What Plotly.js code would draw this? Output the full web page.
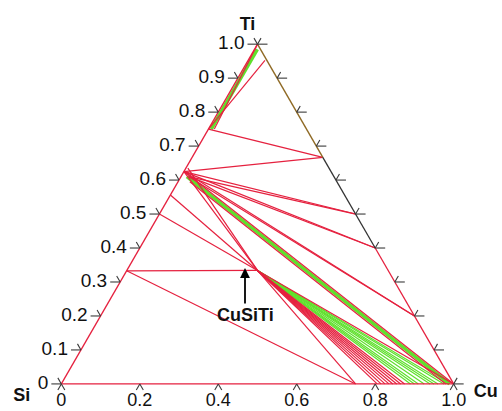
<!DOCTYPE html>
<html><head><meta charset="utf-8">
<script src="https://cdn.plot.ly/plotly-3.0.1.min.js"></script>
<style>html,body{margin:0;padding:0;background:#fff}#chart{width:502px;height:411px}</style>
</head><body><div id="chart"></div>
<script>
// ---- Data: compositions as [Si, Ti, Cu] mole fractions ----
const TiSi2  = [0.667, 0.333, 0];
const TiSi   = [0.5, 0.5, 0];
const Ti5Si4 = [0.444, 0.556, 0];
const Ti5Si3 = [0.375, 0.625, 0];
const Ti5Si3b = [0.37, 0.61, 0.02];
const Ti5Si3c = [0.36, 0.635, 0.005];
const Ti5Si3d = [0.375, 0.595, 0.03];
const Ti5Si3m = [0.375, 0.61, 0.015];
const Ti3Si  = [0.25, 0.75, 0];
const betaTi = [0.005, 0.952, 0.043];
const SiCorner = [1, 0, 0];
const TiCorner = [0, 1, 0];
const CuSiTi = [0.333, 0.334, 0.333];
const Ti2Cu  = [0, 0.667, 0.333];
const TiCu   = [0, 0.5, 0.5];
const Ti2Cu3 = [0, 0.4, 0.6];
const TiCu4  = [0, 0.2, 0.8];
const Cu3Si  = [0.25, 0, 0.75];
const Cu     = [0, 0, 1];
const CuSs   = [0.02, 0, 0.98];
const CuSsMid = [0.01, 0, 0.99];
const bandTop = [0.008, 0.985, 0.007];
const bandBottom = [0.243, 0.75, 0.007];
const bandRedTop = [0, 1, 0];
const bandRedBottom = [0.235, 0.75, 0.015];

const redTies = [
  [Ti3Si, betaTi], [Ti3Si, Ti2Cu], [Ti5Si3, Ti2Cu],
  [Ti5Si3, TiCu], [Ti5Si3b, TiCu],
  [Ti5Si3, Ti2Cu3], [Ti5Si3b, Ti2Cu3],
  [Ti5Si3, TiCu4], [Ti5Si3b, TiCu4],
  [Ti5Si3, CuSiTi], [Ti5Si3c, CuSiTi],
  [Ti5Si3, Cu], [Ti5Si3d, CuSs],
  [Ti5Si4, CuSiTi], [TiSi, CuSiTi], [TiSi2, CuSiTi], [TiSi2, Cu3Si],
  [CuSiTi, Cu], [bandRedTop, bandRedBottom]
];
const greenBands = [[Ti5Si3m, CuSsMid], [bandTop, bandBottom]];
// Cu fraction at the Si–Cu edge for tie lines leaving CuSiTi
const cuSiTiRedEnds   = [0.75, 0.805, 0.815, 0.825, 0.835, 0.845, 0.855, 0.865, 0.875];
const cuSiTiGreenEnds = [0.89, 0.90, 0.91, 0.925, 0.94, 0.95, 0.96, 0.975, 0.985];
// triangle edges
const edgesRed  = [[SiCorner, TiCorner], [SiCorner, Cu], [Ti2Cu3, Cu]];
const edgeOlive = [TiCorner, Ti2Cu];
const edgeDark  = [Ti2Cu, Ti2Cu3];

const sideTicks = [0, 0.1, 0.2, 0.3, 0.4, 0.5, 0.6, 0.7, 0.8, 0.9, 1.0];
const sideLabels = ['0', '0.1', '0.2', '0.3', '0.4', '0.5', '0.6', '0.7', '0.8', '0.9', '1.0'];
const bottomTicks = [0, 0.2, 0.4, 0.6, 0.8, 1.0];
const bottomLabels = ['0', '0.2', '0.4', '0.6', '0.8', '1.0'];
const cornerNames = ['Ti', 'Si', 'Cu'];

// ---- Styling / geometry ----
const RED = '#e5213f', GREEN = '#5fe02c', OLIVE = '#8f6a25', DARK = '#333333', TICK = '#3a3a3a';
const FONT = 'Liberation Sans, Arial, Helvetica, sans-serif';
// The Plotly ternary frame is padded by K on each component so labels/ticks
// placed just outside the diagram stay inside the subplot.
const K = 0.065, SUM = 1 + 3 * K;
const M = {l: 23, r: 10, t: 0, b: 5};
const PH = 411 - M.t - M.b;             // outer triangle height (px)
const H = PH / SUM;                     // diagram height (px per unit Ti)
const W = H * 2 / Math.sqrt(3);         // diagram side (px per unit Cu)

function shift(p, dx, dy) {             // pixel offset -> composition offset
  const dTi = -dy / H;
  const dCu = dx / W - dTi / 2;
  return [p[0] - dTi - dCu, p[1] + dTi, p[2] + dCu];
}
function abc(p) { return {a: p[1] + K, b: p[0] + K, c: p[2] + K}; }
function segTrace(pairs, color, width) {
  const a = [], b = [], c = [];
  pairs.forEach(function (pr) {
    pr.forEach(function (p) { const q = abc(p); a.push(q.a); b.push(q.b); c.push(q.c); });
    a.push(null); b.push(null); c.push(null);
  });
  return {type: 'scatterternary', mode: 'lines', a: a, b: b, c: c,
    line: {color: color, width: width}, hoverinfo: 'skip', connectgaps: false};
}
function pointsTrace(pts, extra) {
  const q = pts.map(abc);
  return Object.assign({type: 'scatterternary', a: q.map(v => v.a), b: q.map(v => v.b),
    c: q.map(v => v.c), hoverinfo: 'skip', cliponaxis: false}, extra);
}

const greenFan = cuSiTiGreenEnds.map(cu => [CuSiTi, [1 - cu, 0, cu]]);
const redFan = cuSiTiRedEnds.map(cu => [CuSiTi, [1 - cu, 0, cu]]);

const traces = [];
traces.push(segTrace(greenFan, GREEN, 1.2));
traces.push(segTrace(greenBands, GREEN, 3.6));
traces.push(segTrace(redTies.concat(redFan), RED, 1.2));
traces.push(segTrace([edgeOlive], OLIVE, 1.4));
traces.push(segTrace([edgeDark], DARK, 1.3));
traces.push(segTrace(edgesRed, RED, 1.3));

// tick strokes: [direction dx, dy, length px, marker angle]
const LH = 10, LD = 7, S3 = Math.sqrt(3) / 2;
function tickSet(basePts, strokes) {
  strokes.forEach(function (s) {
    const pts = basePts.map(p => shift(p, s[0] * s[2] / 2, s[1] * s[2] / 2));
    traces.push(pointsTrace(pts, {mode: 'markers',
      marker: {symbol: 'line-ew', size: s[2] / 1.4, angle: s[3], color: TICK,
               line: {color: TICK, width: 1.1}}}));
  });
}
const leftPts = sideTicks.map(t => [1 - t, t, 0]);
const rightPts = sideTicks.map(t => [0, t, 1 - t]);
const bottomPts = bottomTicks.map(c => [1 - c, 0, c]);
tickSet(leftPts, [[-1, 0, LH, 0], [-0.5, -S3, LD, 60]]);
tickSet(rightPts, [[1, 0, LH, 0], [0.5, -S3, LD, -60]]);
tickSet(bottomPts, [[-0.5, S3, LD, -60], [0.5, S3, LD, 60]]);

// tick labels
traces.push(pointsTrace(leftPts.map(p => shift(p, -13, 0)), {mode: 'text', text: sideLabels,
  textposition: 'middle left', textfont: {family: FONT, size: 19, color: '#111'}}));
traces.push(pointsTrace(bottomPts.map(p => shift(p, 0, 18)), {mode: 'text', text: bottomLabels,
  textposition: 'middle center', textfont: {family: FONT, size: 18, color: '#111'}}));
// corner labels
const bold = s => '<b>' + s + '</b>';
traces.push(pointsTrace([shift(TiCorner, -10, -19)], {mode: 'text', text: [bold(cornerNames[0])],
  textposition: 'middle center', textfont: {family: FONT, size: 18, color: '#111'}}));
traces.push(pointsTrace([shift(SiCorner, -31, 13)], {mode: 'text', text: [bold(cornerNames[1])],
  textposition: 'middle left', textfont: {family: FONT, size: 18, color: '#111'}}));
traces.push(pointsTrace([shift(Cu, 20, 9)], {mode: 'text', text: [bold(cornerNames[2])],
  textposition: 'middle right', textfont: {family: FONT, size: 18, color: '#111'}}));

const axisBase = {showgrid: false, showticklabels: false, ticks: '', showline: false, title: {text: ''}};
const layout = {
  width: 502, height: 411, margin: M, showlegend: false, hovermode: false,
  paper_bgcolor: '#fff', plot_bgcolor: '#fff',
  ternary: {sum: SUM, bgcolor: '#fff', domain: {x: [0, 1], y: [0, 1]},
    aaxis: axisBase, baxis: axisBase, caxis: axisBase},
  annotations: [{
    xref: 'paper', yref: 'paper', x: (245 - M.l) / (502 - M.l - M.r), y: (411 - M.b - 268) / PH,
    text: '<b>CuSiTi</b>', showarrow: true, ax: 0, ay: 47, arrowhead: 2, arrowsize: 1.1,
    arrowwidth: 1.8, arrowcolor: '#000', font: {family: FONT, size: 18, color: '#111'}
  }]
};
Plotly.newPlot('chart', traces, layout, {displayModeBar: false, staticPlot: true});
</script></body></html>
